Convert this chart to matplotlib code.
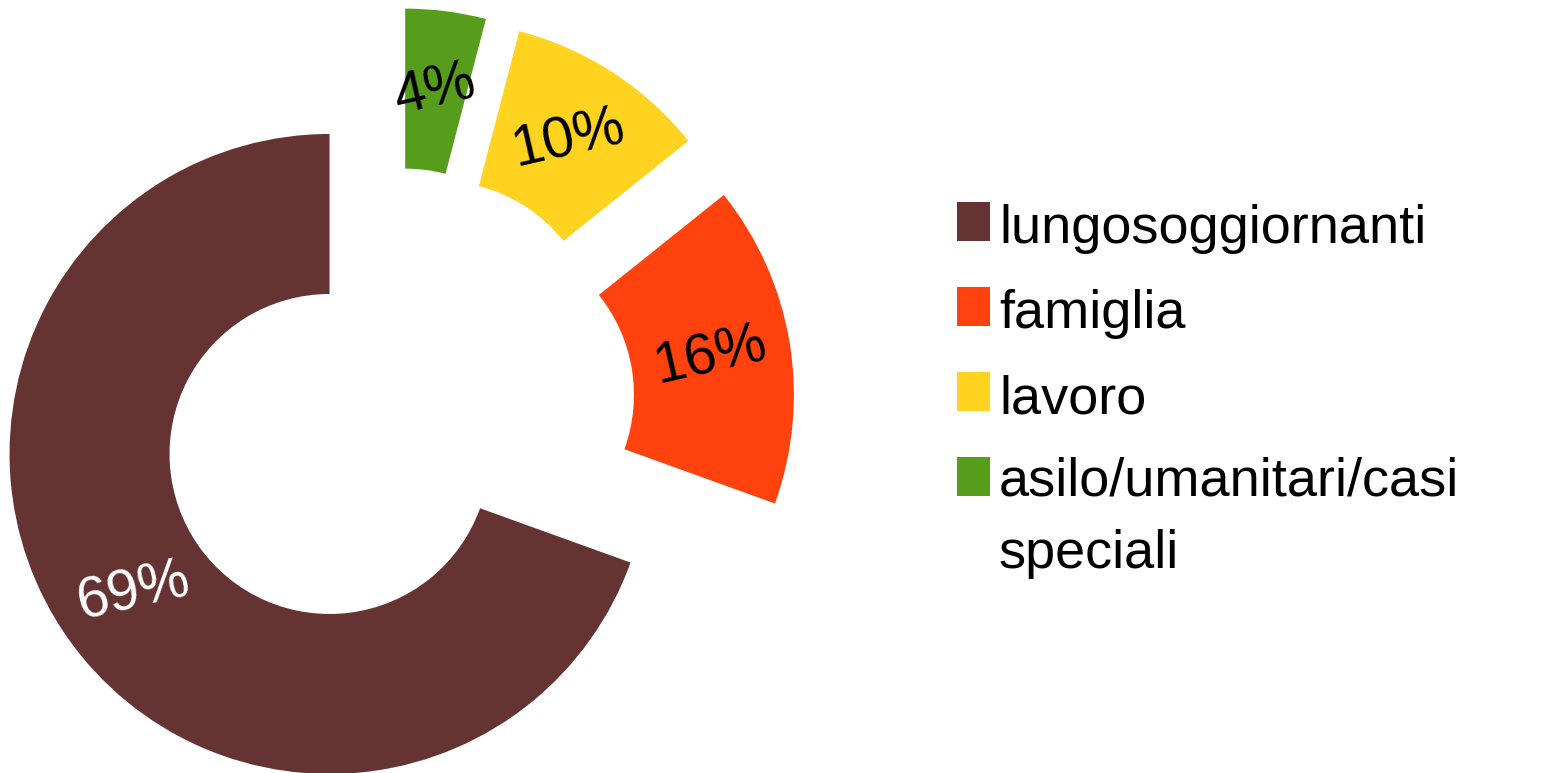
import matplotlib
matplotlib.use("Agg")
import matplotlib.pyplot as plt
from matplotlib.patches import Rectangle

# shares of permits by reason (labels show rounded %)
categories = ["lungosoggiornanti", "famiglia", "lavoro",
              "asilo/umanitari/casi\nspeciali"]
values = [69.49, 16.25, 10.2, 4.06]
colors = ["#663333", "#ff420e", "#ffd320", "#579d1c"]
label_colors = ["white", "black", "black", "black"]

FONT = ["Liberation Sans", "DejaVu Sans"]
W, H = 1567, 773

fig = plt.figure(figsize=(W / 100, H / 100), dpi=100)
ax = fig.add_axes([0, 0, 1, 1])

wedges, texts, autotexts = ax.pie(
    values, colors=colors, startangle=90, counterclock=True,
    explode=[0.25] * len(values), radius=1.0,
    wedgeprops=dict(width=0.5, edgecolor="none"),
    autopct="%.0f%%", pctdistance=0.75,
    textprops=dict(fontsize=41, family=FONT),
)
for t, c in zip(autotexts, label_colors):
    t.set_color(c)
    t.set_rotation(13)
    t.set_rotation_mode("anchor")

# pie center sits at (395, 408) px, radius 320 px
cx, cy, r = 395, 408, 320
ax.set_xlim(-cx / r, (W - cx) / r)
ax.set_ylim(-(H - cy) / r, cy / r)
ax.set_aspect("auto")
ax.axis("off")

# legend drawn by hand to match the original layout
sq_x, sq_w, sq_h = 957, 33, 39
tops = [202, 287, 372, 457]
baselines = [243, 328, 413, 568]   # last entry wraps, baseline of its 2nd line
for cat, col, top, base in zip(categories, colors, tops, baselines):
    fig.add_artist(Rectangle((sq_x / W, 1 - (top + sq_h) / H), sq_w / W, sq_h / H,
                             transform=fig.transFigure, color=col, lw=0))
    fig.text(999 / W, 1 - base / H, cat, fontsize=39, family=FONT,
             ha="left", va="baseline", linespacing=1.57)

fig.savefig("out.png", dpi=100)
